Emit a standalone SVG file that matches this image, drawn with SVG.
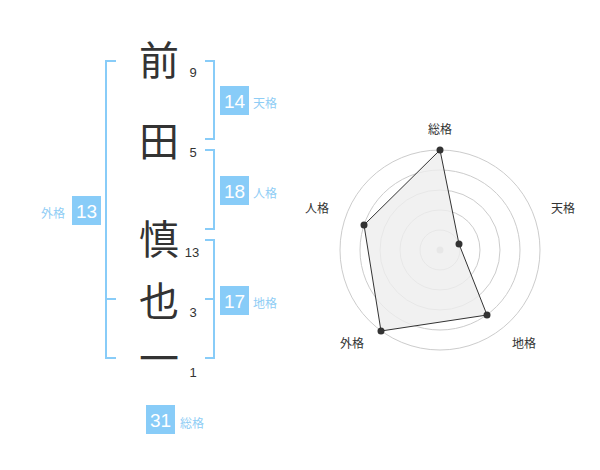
<svg xmlns="http://www.w3.org/2000/svg" width="600" height="470" viewBox="0 0 600 470">
<style>
.ch{font-family:"Noto Sans CJK JP","Noto Sans CJK SC",sans-serif;font-size:40px;fill:#333;text-anchor:middle}
.num{font-family:"Liberation Sans",Arial,sans-serif;font-size:13px;fill:#333;text-anchor:middle}
.br{fill:none;stroke:#88ccf8;stroke-width:2}
.box{fill:#88ccf8}
.bn{font-family:"Liberation Sans",Arial,sans-serif;font-size:19px;fill:#fff;text-anchor:middle}
.bl{font-family:"Noto Sans CJK JP","Noto Sans CJK SC",sans-serif;font-size:12px;fill:#8fcdf5}
.ring{fill:none;stroke:#ccc;stroke-width:1}
.rl{font-family:"Noto Sans CJK JP","Noto Sans CJK SC",sans-serif;font-size:12px;fill:#333;text-anchor:middle}
.pt{fill:#333}
</style>
<rect width="600" height="470" fill="#fff"/>
<g id="chars">
<text class="ch" x="159" y="75">前</text>
<text class="ch" x="159" y="156">田</text>
<text class="ch" x="159" y="254">慎</text>
<text class="ch" x="159" y="316">也</text>
<text class="ch" x="159" y="373">一</text>
</g>
<g id="strokes">
<text class="num" x="193" y="77">9</text>
<text class="num" x="193" y="157">5</text>
<text class="num" x="192" y="257">13</text>
<text class="num" x="193" y="317">3</text>
<text class="num" x="193" y="377">1</text>
</g>
<g id="connectors">
<path class="br" d="M116 61 H106 V358 H116 M106 299 H116"/>
<path class="br" d="M205 61 H214 V139 H205"/>
<path class="br" d="M205 150 H214 V229 H205"/>
<path class="br" d="M205 240 H214 V358 H205 M205 299 H214"/>
</g>
<g id="tenkaku">
<rect class="box" x="220" y="86" width="29" height="29"/>
<text class="bn" x="234.5" y="107.5">14</text>
<text class="bl" x="253" y="108">天格</text>
</g>
<g id="jinkaku">
<rect class="box" x="220" y="176" width="29" height="29"/>
<text class="bn" x="234.5" y="197.5">18</text>
<text class="bl" x="253" y="198">人格</text>
</g>
<g id="chikaku">
<rect class="box" x="220" y="286" width="29" height="29"/>
<text class="bn" x="234.5" y="307.5">17</text>
<text class="bl" x="253" y="308">地格</text>
</g>
<g id="gaikaku">
<rect class="box" x="72" y="196" width="29" height="29"/>
<text class="bn" x="86.5" y="217.5">13</text>
<text class="bl" x="41" y="218">外格</text>
</g>
<g id="soukaku">
<rect class="box" x="146" y="405" width="29" height="29"/>
<text class="bn" x="160.5" y="426.5">31</text>
<text class="bl" x="180" y="428">総格</text>
</g>
<g id="radar">
<circle class="ring" cx="440" cy="250" r="20"/>
<circle class="ring" cx="440" cy="250" r="40"/>
<circle class="ring" cx="440" cy="250" r="60"/>
<circle class="ring" cx="440" cy="250" r="80"/>
<circle class="ring" cx="440" cy="250" r="100"/>
<circle cx="440" cy="250" r="3.5" fill="#ccc"/>
<polygon points="440,150 459,244 487,315 381,331 364,225" fill="#eee" fill-opacity="0.8" stroke="#333" stroke-width="1"/>
<circle class="pt" cx="440" cy="150" r="3.5"/>
<circle class="pt" cx="459" cy="244" r="3.5"/>
<circle class="pt" cx="487" cy="315" r="3.5"/>
<circle class="pt" cx="381" cy="331" r="3.5"/>
<circle class="pt" cx="364" cy="225" r="3.5"/>
<text class="rl" x="440" y="134">総格</text>
<text class="rl" x="563" y="213">天格</text>
<text class="rl" x="524" y="348">地格</text>
<text class="rl" x="352" y="348">外格</text>
<text class="rl" x="317" y="213">人格</text>
</g>
</svg>
